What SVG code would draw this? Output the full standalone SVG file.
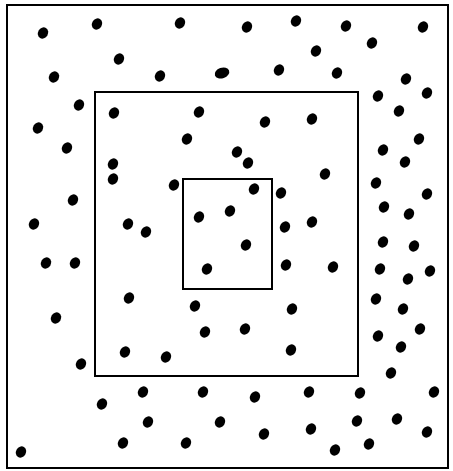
<svg xmlns="http://www.w3.org/2000/svg" xmlns:xlink="http://www.w3.org/1999/xlink" width="453" height="471" viewBox="0 0 453 471">
<style>
.box{fill:none;stroke:#000;stroke-width:2}
.d{fill:#000}
</style>
<defs>
<ellipse id="dot" class="d" rx="5.8" ry="5" transform="rotate(-60)"/>
</defs>
<rect width="453" height="471" fill="#fff"/>
<g id="outer"><rect class="box" x="7" y="5" width="441" height="463"/></g>
<g id="middle"><rect class="box" x="95" y="92" width="263" height="284"/></g>
<g id="inner"><rect class="box" x="183" y="179" width="89" height="110"/></g>
<g id="dots">
<use href="#dot" x="43" y="33"/>
<use href="#dot" x="97" y="24"/>
<use href="#dot" x="180" y="23"/>
<use href="#dot" x="119" y="59"/>
<use href="#dot" x="54" y="77"/>
<use href="#dot" x="160" y="76"/>
<ellipse class="d" cx="222" cy="73" rx="7.5" ry="5.3" transform="rotate(-20 222 73)"/>
<use href="#dot" x="79" y="105"/>
<use href="#dot" x="114" y="113"/>
<use href="#dot" x="199" y="112"/>
<use href="#dot" x="38" y="128"/>
<use href="#dot" x="67" y="148"/>
<use href="#dot" x="187" y="139"/>
<use href="#dot" x="113" y="164"/>
<use href="#dot" x="113" y="179"/>
<use href="#dot" x="174" y="185"/>
<use href="#dot" x="73" y="200"/>
<use href="#dot" x="34" y="224"/>
<use href="#dot" x="128" y="224"/>
<use href="#dot" x="146" y="232"/>
<use href="#dot" x="199" y="217"/>
<use href="#dot" x="230" y="211"/>
<use href="#dot" x="247" y="27"/>
<use href="#dot" x="296" y="21"/>
<use href="#dot" x="346" y="26"/>
<use href="#dot" x="423" y="27"/>
<use href="#dot" x="372" y="43"/>
<use href="#dot" x="316" y="51"/>
<use href="#dot" x="279" y="70"/>
<use href="#dot" x="337" y="73"/>
<use href="#dot" x="406" y="79"/>
<use href="#dot" x="378" y="96"/>
<use href="#dot" x="427" y="93"/>
<use href="#dot" x="399" y="111"/>
<use href="#dot" x="265" y="122"/>
<use href="#dot" x="312" y="119"/>
<use href="#dot" x="419" y="139"/>
<use href="#dot" x="383" y="150"/>
<use href="#dot" x="405" y="162"/>
<use href="#dot" x="237" y="152"/>
<use href="#dot" x="248" y="163"/>
<use href="#dot" x="325" y="174"/>
<use href="#dot" x="376" y="183"/>
<use href="#dot" x="427" y="194"/>
<use href="#dot" x="254" y="189"/>
<use href="#dot" x="281" y="193"/>
<use href="#dot" x="384" y="207"/>
<use href="#dot" x="409" y="214"/>
<use href="#dot" x="285" y="227"/>
<use href="#dot" x="312" y="222"/>
<use href="#dot" x="46" y="263"/>
<use href="#dot" x="75" y="263"/>
<use href="#dot" x="207" y="269"/>
<use href="#dot" x="129" y="298"/>
<use href="#dot" x="195" y="306"/>
<use href="#dot" x="56" y="318"/>
<use href="#dot" x="205" y="332"/>
<use href="#dot" x="125" y="352"/>
<use href="#dot" x="166" y="357"/>
<use href="#dot" x="81" y="364"/>
<use href="#dot" x="143" y="392"/>
<use href="#dot" x="203" y="392"/>
<use href="#dot" x="102" y="404"/>
<use href="#dot" x="148" y="422"/>
<use href="#dot" x="220" y="422"/>
<use href="#dot" x="123" y="443"/>
<use href="#dot" x="186" y="443"/>
<use href="#dot" x="21" y="452"/>
<use href="#dot" x="246" y="245"/>
<use href="#dot" x="383" y="242"/>
<use href="#dot" x="414" y="246"/>
<use href="#dot" x="286" y="265"/>
<use href="#dot" x="333" y="267"/>
<use href="#dot" x="380" y="269"/>
<use href="#dot" x="408" y="279"/>
<use href="#dot" x="430" y="271"/>
<use href="#dot" x="376" y="299"/>
<use href="#dot" x="403" y="309"/>
<use href="#dot" x="292" y="309"/>
<use href="#dot" x="245" y="329"/>
<use href="#dot" x="378" y="336"/>
<use href="#dot" x="420" y="329"/>
<use href="#dot" x="401" y="347"/>
<use href="#dot" x="291" y="350"/>
<use href="#dot" x="391" y="373"/>
<use href="#dot" x="255" y="397"/>
<use href="#dot" x="309" y="392"/>
<use href="#dot" x="360" y="393"/>
<use href="#dot" x="434" y="392"/>
<use href="#dot" x="264" y="434"/>
<use href="#dot" x="311" y="429"/>
<use href="#dot" x="357" y="421"/>
<use href="#dot" x="397" y="419"/>
<use href="#dot" x="427" y="432"/>
<use href="#dot" x="335" y="450"/>
<use href="#dot" x="369" y="444"/>
</g>
</svg>
